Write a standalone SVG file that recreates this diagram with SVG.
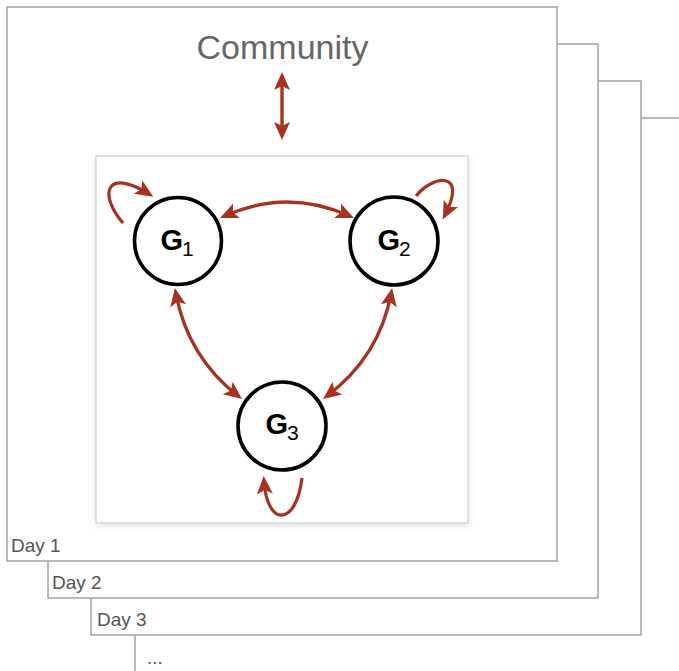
<svg xmlns="http://www.w3.org/2000/svg" width="679" height="671" viewBox="0 0 679 671">
  <style>
    .frame { fill: #ffffff; stroke: #a3a3a3; stroke-width: 1.5; }
    .day { font-family: "Liberation Sans", Arial, sans-serif; font-size: 19px; fill: #555555; }
    .title { font-family: "Liberation Sans", Arial, sans-serif; font-size: 34px; fill: #666666; }
    .node circle { fill: #ffffff; stroke: #000000; stroke-width: 3.6; }
    .node text { font-family: "Liberation Sans", Arial, sans-serif; fill: #000000; text-anchor: middle; }
    .node .g { font-size: 29px; font-weight: bold; }
    .node .sub { font-size: 21px; }
    .edge { fill: none; stroke: #a8311f; stroke-width: 3.4; marker-start: url(#head); marker-end: url(#head); }
    .loop { fill: none; stroke: #a8311f; stroke-width: 3.2; marker-end: url(#head); }
  </style>
  <defs>
    <marker id="head" markerUnits="userSpaceOnUse" markerWidth="30" markerHeight="30" refX="0" refY="0" viewBox="-15 -15 30 30" orient="auto-start-reverse" overflow="visible">
      <path d="M5,0 L-13,-8 L-9,0 L-13,8 Z" fill="#a8311f"/>
    </marker>
    <filter id="soft" x="-10%" y="-10%" width="120%" height="120%">
      <feDropShadow dx="0" dy="2" stdDeviation="3" flood-color="#000000" flood-opacity="0.12"/>
    </filter>
  </defs>

  <!-- stacked day frames, back to front -->
  <g id="frame-day4">
    <rect class="frame" x="135" y="118" width="560" height="570"/>
    <text class="day" x="147" y="664">...</text>
  </g>
  <g id="frame-day3">
    <rect class="frame" x="91" y="81" width="550" height="554"/>
    <text class="day" x="97" y="626">Day 3</text>
  </g>
  <g id="frame-day2">
    <rect class="frame" x="48" y="44" width="550" height="554"/>
    <text class="day" x="52" y="589">Day 2</text>
  </g>
  <g id="frame-day1">
    <rect class="frame" x="7" y="7" width="550" height="554"/>
    <text class="day" x="11" y="552">Day 1</text>
  </g>

  <!-- community label -->
  <g id="community">
    <text class="title" x="282.5" y="59" text-anchor="middle">Community</text>
  </g>

  <!-- inner group box -->
  <g id="group-box">
    <rect x="96" y="156" width="372" height="367" fill="#ffffff" stroke="#c4c4c4" stroke-width="1" filter="url(#soft)"/>
  </g>

  <!-- connectors -->
  <g id="connectors">
    <path class="edge" d="M282,77 L282,135"/>
    <path class="edge" d="M224.6,216 Q287,188 349.4,216"/>
    <path class="edge" d="M175.8,293 Q187.5,356.5 238,396"/>
    <path class="edge" d="M391.2,293 Q379.5,356.5 327,396"/>
    <path class="loop" d="M123,223 C98,194 106,167 149,194"/>
    <path class="loop" d="M416,196 C433,175 468,170 445,215"/>
    <path class="loop" d="M302,478 C296,527 267,527 264,481"/>
  </g>

  <!-- nodes -->
  <g id="node-g1" class="node">
    <circle cx="178" cy="241" r="43.5"/>
    <text x="177" y="250"><tspan class="g">G</tspan><tspan class="sub" dx="-1" dy="6">1</tspan></text>
  </g>
  <g id="node-g2" class="node">
    <circle cx="394" cy="241" r="44"/>
    <text x="394" y="250"><tspan class="g">G</tspan><tspan class="sub" dx="-1" dy="6">2</tspan></text>
  </g>
  <g id="node-g3" class="node">
    <circle cx="282" cy="426" r="44"/>
    <text x="282" y="434"><tspan class="g">G</tspan><tspan class="sub" dx="-1" dy="6">3</tspan></text>
  </g>
</svg>
